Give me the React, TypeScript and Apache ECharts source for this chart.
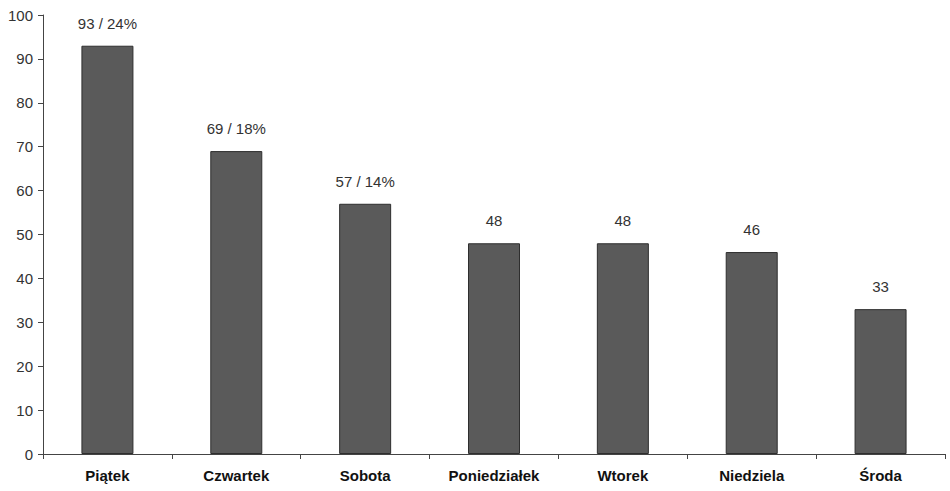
import React, { useEffect, useRef } from "react";
import * as echarts from "echarts";

const categories = ["Piątek", "Czwartek", "Sobota", "Poniedziałek", "Wtorek", "Niedziela", "Środa"];
const values = [93, 69, 57, 48, 48, 46, 33];
const valueLabels = ["93 / 24%", "69 / 18%", "57 / 14%", "48", "48", "46", "33"];
const yTicks = [0, 10, 20, 30, 40, 50, 60, 70, 80, 90, 100];

export default function App() {
  const ref = useRef<HTMLDivElement>(null);
  useEffect(() => {
    const chart = echarts.init(ref.current!, null, { renderer: "svg" });
    chart.setOption({
      animation: false,
      backgroundColor: "#ffffff",
      grid: { left: 43, right: 5, top: 15, bottom: 37 },
      xAxis: {
        type: "category",
        data: categories,
        axisLine: { lineStyle: { color: "#444", width: 1 } },
        axisTick: { show: true, length: 5, lineStyle: { color: "#444" } },
        axisLabel: {
          color: "#111",
          fontFamily: "Liberation Sans, Arial, sans-serif",
          fontWeight: "bold",
          fontSize: 15,
          margin: 14,
        },
      },
      yAxis: {
        type: "value",
        min: yTicks[0],
        max: yTicks[yTicks.length - 1],
        interval: 10,
        splitLine: { show: false },
        axisLine: { show: true, lineStyle: { color: "#444", width: 1 } },
        axisTick: { show: true, length: 5, lineStyle: { color: "#444" } },
        axisLabel: {
          color: "#333",
          fontFamily: "Liberation Sans, Arial, sans-serif",
          fontSize: 15,
          margin: 10,
        },
      },
      series: [
        {
          type: "bar",
          data: values,
          barWidth: 52,
          itemStyle: { color: "#5a5a5a", borderColor: "#2e2e2e", borderWidth: 1 },
          label: {
            show: true,
            position: "top",
            distance: 15,
            color: "#333",
            fontFamily: "Liberation Sans, Arial, sans-serif",
            fontSize: 15,
            formatter: (p: any) => valueLabels[p.dataIndex],
          },
        },
      ],
    });
    return () => chart.dispose();
  }, []);
  return <div ref={ref} style={{ width: 950, height: 491, position: "absolute", left: 0, top: 0 }} />;
}
